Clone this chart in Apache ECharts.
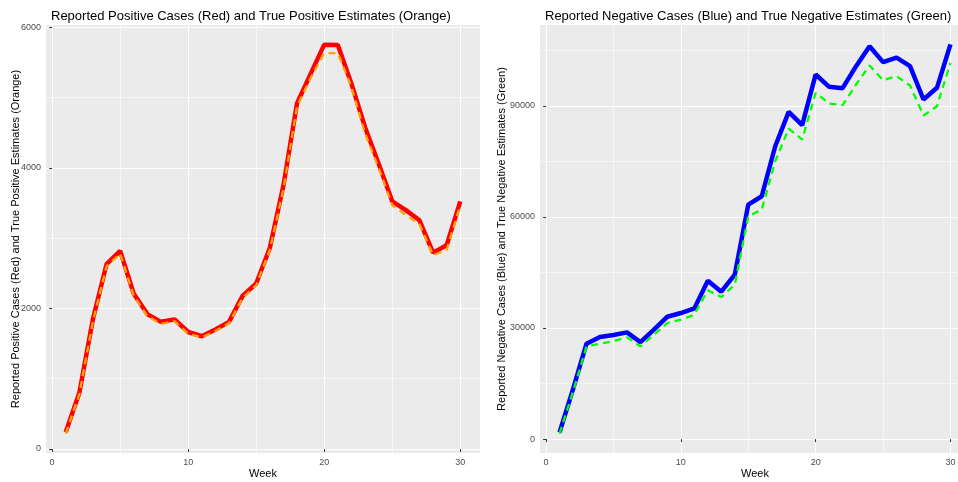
<!DOCTYPE html>
<html>
<head>
<meta charset="utf-8">
<script src="https://cdn.jsdelivr.net/npm/echarts@6/dist/echarts.min.js"></script>
<style>html,body{margin:0;padding:0;background:#fff}#c{width:958px;height:482px}</style>
</head>
<body>
<div id="c"></div>
<script>
const weeks = [1,2,3,4,5,6,7,8,9,10,11,12,13,14,15,16,17,18,19,20,21,22,23,24,25,26,27,28,29,30];
const reportedPositive = [240,800,1850,2630,2820,2210,1920,1810,1845,1665,1605,1700,1810,2180,2355,2860,3750,4920,5340,5755,5750,5200,4580,4060,3525,3400,3255,2795,2900,3525];
const truePositive = [220,780,1820,2600,2780,2180,1890,1780,1820,1640,1590,1680,1790,2150,2330,2830,3700,4877,5280,5635,5635,5150,4490,4000,3470,3330,3200,2760,2830,3470];
const reportedNegative = [1800,13500,25760,27560,28100,28820,26200,29540,33050,34050,35300,42780,39800,44400,63320,65570,79080,88370,84770,98460,95130,94760,100700,106100,101800,103000,100700,91700,94860,106570];
const trueNegative = [1500,12800,25030,25760,26480,27470,25030,28200,31350,32250,33600,40170,38370,41700,60160,61970,75030,83860,80890,93510,90620,90160,95760,100900,96920,98000,95490,87380,89890,101620];
const xTicks = [0,10,20,30];
const xMinor = [5,15,25];
const yTicksPos = [0,2000,4000,6000];
const yMinorPos = [1000,3000,5000];
const yTicksNeg = [0,30000,60000,90000];
const yMinorNeg = [15000,45000,75000,105000];

const FONT = 'Liberation Sans';
const pair = (xs, ys) => xs.map((x, i) => [x, ys[i]]);
const plain = v => String(v);

function majorX(gridIndex) {
  return {
    type: 'value', gridIndex, min: -0.45, max: 31.45, position: 'bottom',
    name: 'Week', nameLocation: 'middle', nameGap: 15, nameMoveOverlap: false,
    nameTextStyle: {color: '#000', fontSize: 11, fontFamily: FONT},
    axisLine: {show: false},
    axisTick: {show: true, length: 3, customValues: xTicks, lineStyle: {color: '#333', width: 1}},
    axisLabel: {customValues: xTicks, formatter: plain, color: '#4d4d4d', fontSize: 9, fontFamily: FONT, margin: 5},
    splitLine: {show: true, lineStyle: {color: '#fff', width: 1.1}}
  };
}
function minorX(gridIndex) {
  return {
    type: 'value', gridIndex, min: -0.45, max: 31.45, position: 'bottom',
    axisLine: {show: false},
    axisTick: {show: false, customValues: xMinor},
    axisLabel: {show: false, customValues: xMinor},
    splitLine: {show: true, lineStyle: {color: '#fff', width: 0.55}}
  };
}
function majorY(gridIndex, min, max, ticks, name, gap) {
  return {
    type: 'value', gridIndex, min, max, position: 'left',
    name, nameLocation: 'middle', nameGap: gap, nameMoveOverlap: false,
    nameTextStyle: {color: '#000', fontSize: 11, fontFamily: FONT},
    axisLine: {show: false},
    axisTick: {show: true, length: 3, customValues: ticks, lineStyle: {color: '#333', width: 1}},
    axisLabel: {customValues: ticks, formatter: plain, color: '#4d4d4d', fontSize: 9, fontFamily: FONT, margin: 5},
    splitLine: {show: true, lineStyle: {color: '#fff', width: 1.1}}
  };
}
function minorY(gridIndex, min, max, ticks) {
  return {
    type: 'value', gridIndex, min, max, position: 'left',
    axisLine: {show: false},
    axisTick: {show: false, customValues: ticks},
    axisLabel: {show: false, customValues: ticks},
    splitLine: {show: true, lineStyle: {color: '#fff', width: 0.55}}
  };
}

const chart = echarts.init(document.getElementById('c'), null, {renderer: 'canvas'});
chart.setOption({
  backgroundColor: '#ffffff',
  animation: false,
  title: [
    {text: 'Reported Positive Cases (Red) and True Positive Estimates (Orange)', left: 46, top: 5,
     textStyle: {fontSize: 13, fontWeight: 'normal', color: '#000', fontFamily: FONT}},
    {text: 'Reported Negative Cases (Blue) and True Negative Estimates (Green)', left: 540, top: 5,
     textStyle: {fontSize: 13, fontWeight: 'normal', color: '#000', fontFamily: FONT}}
  ],
  grid: [
    {left: 46, top: 25, width: 434, height: 428, show: true, backgroundColor: '#ebebeb', borderWidth: 0,
     containLabel: false, outerBoundsMode: 'none'},
    {left: 540, top: 25, width: 430, height: 428, show: true, backgroundColor: '#ebebeb', borderWidth: 0,
     containLabel: false, outerBoundsMode: 'none'}
  ],
  xAxis: [minorX(0), majorX(0), minorX(1), majorX(1)],
  yAxis: [
    minorY(0, -57, 6035, yMinorPos),
    majorY(0, -57, 6035, yTicksPos, 'Reported Positive Cases (Red) and True Positive Estimates (Orange)', 25),
    minorY(1, -3754, 111824, yMinorNeg),
    majorY(1, -3754, 111824, yTicksNeg, 'Reported Negative Cases (Blue) and True Negative Estimates (Green)', 32.5)
  ],
  series: [
    {type: 'line', xAxisIndex: 1, yAxisIndex: 1, data: pair(weeks, reportedPositive), symbol: 'none',
     lineStyle: {color: '#ff0000', width: 4.5}},
    {type: 'line', xAxisIndex: 1, yAxisIndex: 1, data: pair(weeks, truePositive), symbol: 'none',
     lineStyle: {color: '#ffa500', width: 2.3, type: [7, 5]}},
    {type: 'line', xAxisIndex: 3, yAxisIndex: 3, data: pair(weeks, reportedNegative), symbol: 'none',
     lineStyle: {color: '#0000ff', width: 4.5}},
    {type: 'line', xAxisIndex: 3, yAxisIndex: 3, data: pair(weeks, trueNegative), symbol: 'none',
     lineStyle: {color: '#00ff00', width: 2.3, type: [7, 5]}}
  ]
});
</script>
</body>
</html>
